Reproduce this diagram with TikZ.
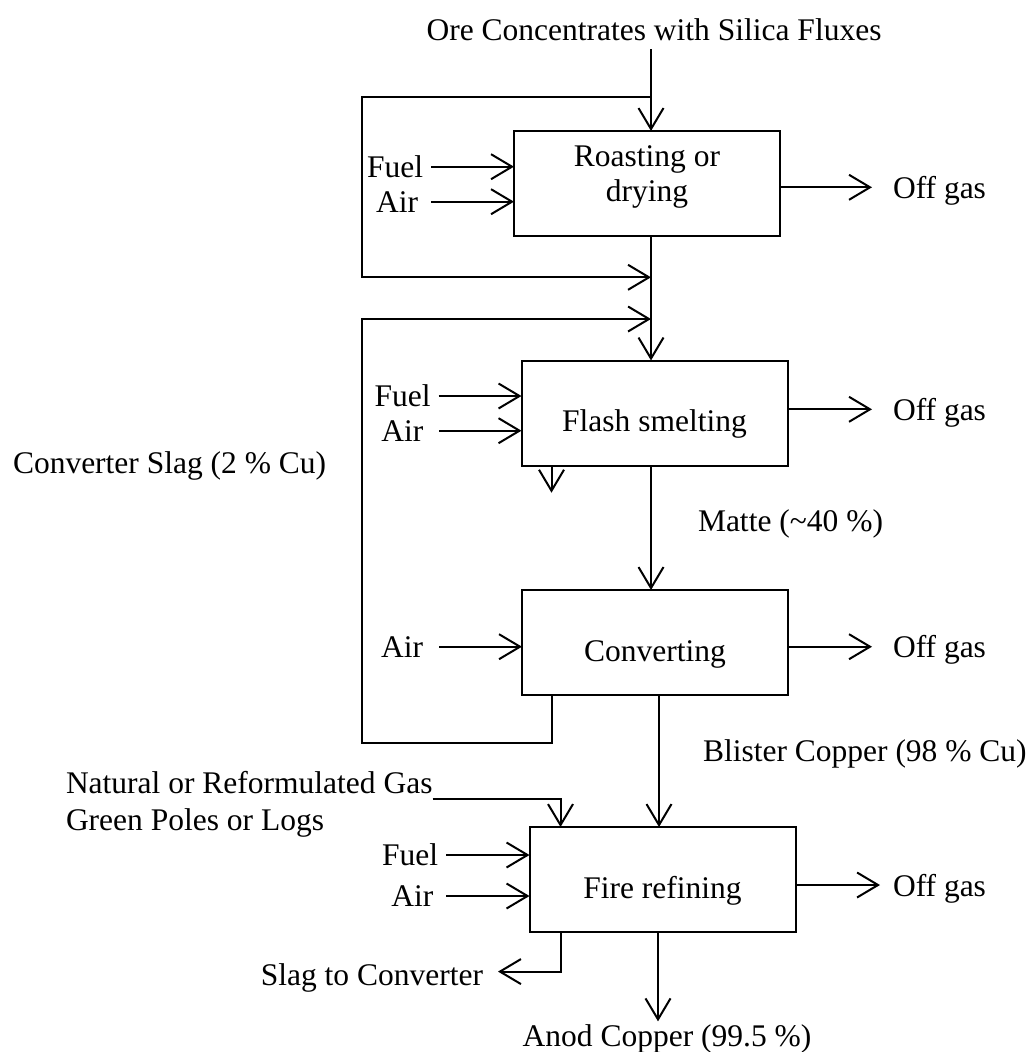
\documentclass[tikz,border=0pt]{standalone}
\usepackage{fontspec}
\setmainfont{Liberation Serif}
\usetikzlibrary{positioning, arrows.meta}

\begin{document}
\begin{tikzpicture}[
		x=1pt, y=-1pt,
		font=\fontsize{31.5}{35.7}\selectfont,
		line width=2pt,
		box/.style={rectangle, draw, outer sep=0pt, inner sep=0pt,
			minimum width=266pt, minimum height=105pt, align=center},
		onebox/.style={box, text height=37pt, text depth=0pt},
		lbl/.style={inner sep=0pt, outer sep=0pt, text depth=0pt},
		arr/.style={-{Straight Barb[length=21pt, width=25pt]}}
		]
		\useasboundingbox (0,0) rectangle (1033,1052);

		% process boxes
		\node[box, text depth=20pt] (roast) at (647,183.5) {Roasting or\\drying};
		\node[onebox, below=124.5pt of roast, xshift=7.5pt] (flash) {Flash smelting};
		\node[onebox, below=124.5pt of flash, xshift=0.5pt] (conv) {Converting};
		\node[onebox, below=132pt of conv, xshift=7.5pt] (fire) {Fire refining};

		% feeds and products
		\node[lbl, anchor=base] (ore) at (654,40.7) {Ore Concentrates with Silica Fluxes};
		\node[lbl, anchor=east] (fuelR) at (423,166.7) {Fuel};
		\node[lbl, anchor=east] (airR) at (418,201.7) {Air};
		\node[lbl, anchor=east] (fuelF) at (430.7,396) {Fuel};
		\node[lbl, anchor=east] (airF) at (423.3,430.7) {Air};
		\node[lbl, anchor=east] (airC) at (423,646.7) {Air};
		\node[lbl, anchor=east] (fuelX) at (438,855) {Fuel};
		\node[lbl, anchor=east] (airX) at (433.3,896) {Air};
		\node[lbl, anchor=west] (ogR) at (893,187.3) {Off gas};
		\node[lbl, anchor=west] (ogF) at (893,409.3) {Off gas};
		\node[lbl, anchor=west] (ogC) at (893,646.7) {Off gas};
		\node[lbl, anchor=west] (ogX) at (893,885) {Off gas};
		\node[lbl, anchor=base west] (cvslag) at (13,473.3) {Converter Slag (2 \% Cu)};
		\node[lbl, anchor=base west] (matte) at (698,531.7) {Matte (\textasciitilde 40 \%)};
		\node[lbl, anchor=base west] (blister) at (703,761.7) {Blister Copper (98 \% Cu)};
		\node[lbl, anchor=base west] (natgas) at (66,793.3) {Natural or Reformulated Gas};
		\node[lbl, anchor=base west] (poles) at (66,830.7) {Green Poles or Logs};
		\node[lbl, anchor=base east] (slagout) at (483,985) {Slag to Converter};
		\node[lbl, anchor=base] (anod) at (667,1046.7) {Anod Copper (99.5 \%)};

		\coordinate (splitA) at (651,96.7);
		\coordinate (joinA) at (651,277.3);
		\coordinate (joinB) at (651,319);

		% main line
		\draw[arr, shorten <=8.6pt] (ore.base -| splitA) -- (splitA |- roast.north);
		\draw[arr] (splitA |- roast.south) -- (splitA |- flash.north);
		\draw[arr] (splitA |- flash.south) -- (splitA |- conv.north);
		\draw[arr] ([xshift=4pt]conv.south) -- ([xshift=4pt]conv.south |- fire.north);
		\draw[arr, shorten >=3.5pt] ([xshift=-4.5pt]fire.south) -- ([xshift=-4.5pt]fire.south |- anod.north);

		% bypass and slag return
		\draw[arr] (splitA) -- ++(-289,0) |- (joinA);
		\draw[arr] ([xshift=30pt]conv.south west) -- ++(0,48.3) -- ++(-190,0) |- (joinB);
		\draw[arr] ([xshift=30pt]flash.south west) -- ++(0,27.2);
		\draw[arr, shorten >=15pt] ([xshift=31pt]fire.south west) |- ([yshift=2.5pt]slagout.east);
		\draw[arr] ([yshift=-5.7pt]natgas.base east) -| ([xshift=31pt]fire.north west);

		% fuel and air
		\draw[arr, shorten <=8pt] (fuelR) -- (fuelR -| roast.west);
		\draw[arr, shorten <=13pt] (airR) -- (airR -| roast.west);
		\draw[arr, shorten <=8pt] (fuelF) -- (fuelF -| flash.west);
		\draw[arr, shorten <=16pt] (airF) -- (airF -| flash.west);
		\draw[arr, shorten <=16pt] (airC) -- (airC -| conv.west);
		\draw[arr, shorten <=8pt] (fuelX) -- (fuelX -| fire.west);
		\draw[arr, shorten <=13pt] (airX) -- (airX -| fire.west);

		% off gas
		\draw[arr, shorten >=21pt] (roast.east |- ogR) -- (ogR);
		\draw[arr, shorten >=21pt] (flash.east |- ogF) -- (ogF);
		\draw[arr, shorten >=21pt] (conv.east |- ogC) -- (ogC);
		\draw[arr, shorten >=13pt] (fire.east |- ogX) -- (ogX);
	\end{tikzpicture}
\end{document}
